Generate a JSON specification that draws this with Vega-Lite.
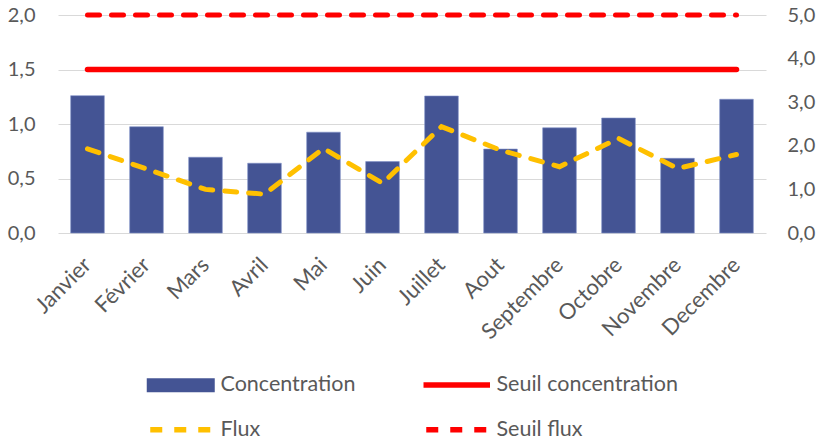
{
  "$schema": "https://vega.github.io/schema/vega-lite/v6.json",
  "width": 708,
  "height": 218,
  "autosize": {"type": "none"},
  "padding": {"left": 58, "top": 15, "right": 53, "bottom": 208},
  "background": "white",
  "config": {
    "font": "Lato",
    "view": {"stroke": null},
    "axis": {"labelFont": "Lato", "labelColor": "#595959", "labelFontSize": 20, "ticks": false, "domain": false, "title": null, "gridColor": "#D9D9D9", "gridWidth": 1}
  },
  "data": {
    "values": [
      {"mois": "Janvier", "conc": 1.26, "flux": 1.93, "seuil_c": 1.5, "seuil_f": 5},
      {"mois": "Février", "conc": 0.975, "flux": 1.47, "seuil_c": 1.5, "seuil_f": 5},
      {"mois": "Mars", "conc": 0.695, "flux": 1.0, "seuil_c": 1.5, "seuil_f": 5},
      {"mois": "Avril", "conc": 0.64, "flux": 0.89, "seuil_c": 1.5, "seuil_f": 5},
      {"mois": "Mai", "conc": 0.925, "flux": 1.94, "seuil_c": 1.5, "seuil_f": 5},
      {"mois": "Juin", "conc": 0.655, "flux": 1.14, "seuil_c": 1.5, "seuil_f": 5},
      {"mois": "Juillet", "conc": 1.257, "flux": 2.44, "seuil_c": 1.5, "seuil_f": 5},
      {"mois": "Aout", "conc": 0.77, "flux": 1.9, "seuil_c": 1.5, "seuil_f": 5},
      {"mois": "Septembre", "conc": 0.965, "flux": 1.52, "seuil_c": 1.5, "seuil_f": 5},
      {"mois": "Octobre", "conc": 1.055, "flux": 2.17, "seuil_c": 1.5, "seuil_f": 5},
      {"mois": "Novembre", "conc": 0.685, "flux": 1.48, "seuil_c": 1.5, "seuil_f": 5},
      {"mois": "Decembre", "conc": 1.227, "flux": 1.8, "seuil_c": 1.5, "seuil_f": 5}
    ]
  },
  "encoding": {
    "x": {
      "field": "mois", "type": "nominal", "sort": null,
      "scale": {"type": "band", "paddingInner": 0.43, "paddingOuter": 0.215},
      "axis": {"labelAngle": -45, "labelAlign": "right", "labelBaseline": "middle", "labelPadding": 28, "labelOffset": 0, "grid": false, "labelFontSize": 22}
    }
  },
  "layer": [
    {
      "layer": [
        {
          "mark": {"type": "bar", "stroke": "#8090C8", "strokeWidth": 0.6},
          "encoding": {
            "y": {"field": "conc", "type": "quantitative", "scale": {"domain": [0, 2], "nice": false},
              "axis": {"orient": "left", "values": [0, 0.5, 1, 1.5, 2], "grid": true, "labelPadding": 23, "labelExpr": "replace(format(datum.value, '.1f'), '.', ',')"}},
            "color": {
              "datum": "Concentration",
              "scale": {"domain": ["Concentration", "Seuil concentration", "Flux", "Seuil flux"], "range": ["#445494", "#FF0000", "#FFC000", "#FF0000"]},
              "legend": {
                "orient": "none", "legendX": 112, "legendY": 359, "columns": 2, "direction": "horizontal", "title": null,
                "values": ["Concentration", "Seuil concentration", "Flux", "Seuil flux"],
                "labelFont": "Lato", "labelFontSize": 21.5, "labelColor": "#595959", "labelLimit": 400,
                "symbolSize": 400, "labelOffset": 29, "columnPadding": 56, "rowPadding": 22,
                "symbolType": {"expr": "datum.value === 'Concentration' ? 'M-3.4,-0.7H3.4V0.7H-3.4Z' : (datum.value === 'Seuil concentration' ? 'M-3.325,0H3.325' : 'M-3.05,0H3.05')"},
                "symbolFillColor": {"expr": "datum.value === 'Concentration' ? '#445494' : 'transparent'"},
                "symbolStrokeColor": {"expr": "datum.value === 'Concentration' ? 'transparent' : (datum.value === 'Flux' ? '#FFC000' : '#FF0000')"},
                "symbolStrokeWidth": {"expr": "datum.value === 'Concentration' ? 0 : 5.5"},
                "symbolDash": {"expr": "datum.value === 'Flux' || datum.value === 'Seuil flux' ? [12, 12] : [1, 0]"}
              }
            }
          }
        },
        {
          "mark": {"type": "line", "strokeWidth": 5.5, "strokeCap": "round"},
          "encoding": {
            "y": {"field": "seuil_c", "type": "quantitative", "scale": {"domain": [0, 2], "nice": false}},
            "color": {"datum": "Seuil concentration"}
          }
        }
      ]
    },
    {
      "layer": [
        {
          "mark": {"type": "line", "strokeWidth": 5, "strokeCap": "round", "strokeDash": [12, 12]},
          "encoding": {
            "y": {"field": "flux", "type": "quantitative", "scale": {"domain": [0, 5], "nice": false},
              "axis": {"orient": "right", "values": [0, 1, 2, 3, 4, 5], "grid": false, "labelPadding": 21, "labelExpr": "replace(format(datum.value, '.1f'), '.', ',')"}},
            "color": {"datum": "Flux"}
          }
        },
        {
          "mark": {"type": "line", "strokeWidth": 5, "strokeCap": "round", "strokeDash": [12, 12]},
          "encoding": {
            "y": {"field": "seuil_f", "type": "quantitative", "scale": {"domain": [0, 5], "nice": false}},
            "color": {"datum": "Seuil flux"}
          }
        }
      ]
    }
  ],
  "resolve": {"scale": {"y": "independent"}}
}
